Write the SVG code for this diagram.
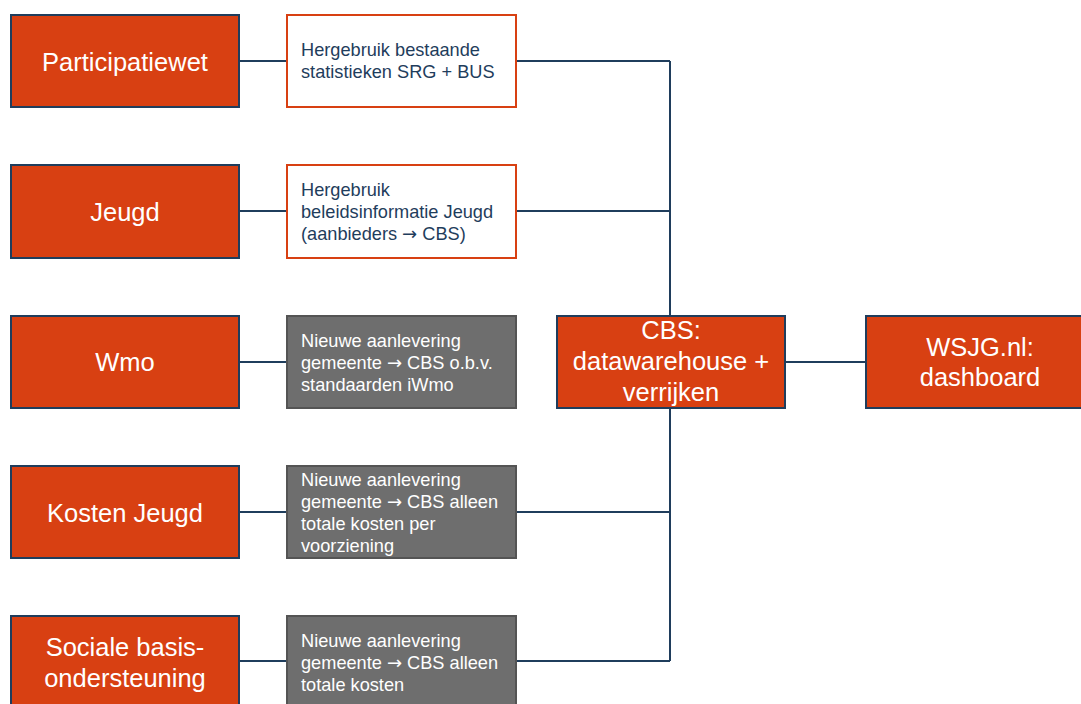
<svg xmlns="http://www.w3.org/2000/svg" width="1081" height="704" viewBox="0 0 1081 704">
<style>
.o{fill:#D84012;stroke:#1F3D5C;stroke-width:2}
.w{fill:#fff;stroke:#D84012;stroke-width:2}
.g{fill:#6E6E6E;stroke:#545454;stroke-width:2}
.tl{font-family:"Liberation Sans",Arial,sans-serif;font-size:25.5px;fill:#fff;text-anchor:middle}
.tw{font-family:"Liberation Sans",Arial,sans-serif;font-size:18.2px;fill:#1F3D5C}
.tg{font-family:"Liberation Sans",Arial,sans-serif;font-size:18.2px;fill:#fff}
.ar{font-family:"DejaVu Sans",sans-serif;font-size:18px}
.c{stroke:#1F3D5C;stroke-width:2;fill:none}
</style>
<rect width="1081" height="704" fill="#fff"/>
<g id="connectors">
<path class="c" d="M670 61V661"/>
<path class="c" d="M239 61H287M516 61H670"/>
<path class="c" d="M239 211H287M516 211H670"/>
<path class="c" d="M239 362H287"/>
<path class="c" d="M239 512H287M516 512H670"/>
<path class="c" d="M239 661H287M516 661H670"/>
<path class="c" d="M785 362H866"/>
</g>
<g id="participatiewet"><rect class="o" x="11" y="15" width="228" height="92"/><text class="tl" x="125" y="71">Participatiewet</text></g>
<g id="jeugd"><rect class="o" x="11" y="165" width="228" height="93"/><text class="tl" x="125" y="221">Jeugd</text></g>
<g id="wmo"><rect class="o" x="11" y="316" width="228" height="92"/><text class="tl" x="125" y="371">Wmo</text></g>
<g id="kosten-jeugd"><rect class="o" x="11" y="466" width="228" height="92"/><text class="tl" x="125" y="522">Kosten Jeugd</text></g>
<g id="sociale"><rect class="o" x="11" y="616" width="228" height="100"/><text class="tl" x="125" y="656">Sociale basis-</text><text class="tl" x="125" y="687">ondersteuning</text></g>
<g id="hergebruik-srg"><rect class="w" x="287" y="15" width="229" height="92"/><text class="tw" x="301" y="56">Hergebruik bestaande</text><text class="tw" x="301" y="78">statistieken SRG + BUS</text></g>
<g id="hergebruik-jeugd"><rect class="w" x="287" y="165" width="229" height="93"/><text class="tw" x="301" y="196">Hergebruik</text><text class="tw" x="301" y="218">beleidsinformatie Jeugd</text><text class="tw" x="301" y="240">(aanbieders <tspan class="ar">→</tspan> CBS)</text></g>
<g id="nieuw-wmo"><rect class="g" x="287" y="316" width="229" height="92"/><text class="tg" x="301" y="347">Nieuwe aanlevering</text><text class="tg" x="301" y="369">gemeente <tspan class="ar">→</tspan> CBS o.b.v.</text><text class="tg" x="301" y="391">standaarden iWmo</text></g>
<g id="nieuw-kosten"><rect class="g" x="287" y="466" width="229" height="92"/><text class="tg" x="301" y="486">Nieuwe aanlevering</text><text class="tg" x="301" y="508">gemeente <tspan class="ar">→</tspan> CBS alleen</text><text class="tg" x="301" y="530">totale kosten per</text><text class="tg" x="301" y="552">voorziening</text></g>
<g id="nieuw-sociale"><rect class="g" x="287" y="616" width="229" height="100"/><text class="tg" x="301" y="647">Nieuwe aanlevering</text><text class="tg" x="301" y="669">gemeente <tspan class="ar">→</tspan> CBS alleen</text><text class="tg" x="301" y="691">totale kosten</text></g>
<g id="cbs"><rect class="o" x="557" y="316" width="228" height="92"/><text class="tl" x="671" y="339">CBS:</text><text class="tl" x="671" y="370">datawarehouse +</text><text class="tl" x="671" y="401">verrijken</text></g>
<g id="wsjg"><rect class="o" x="866" y="316" width="228" height="92"/><text class="tl" x="980" y="356">WSJG.nl:</text><text class="tl" x="980" y="386">dashboard</text></g>
</svg>
